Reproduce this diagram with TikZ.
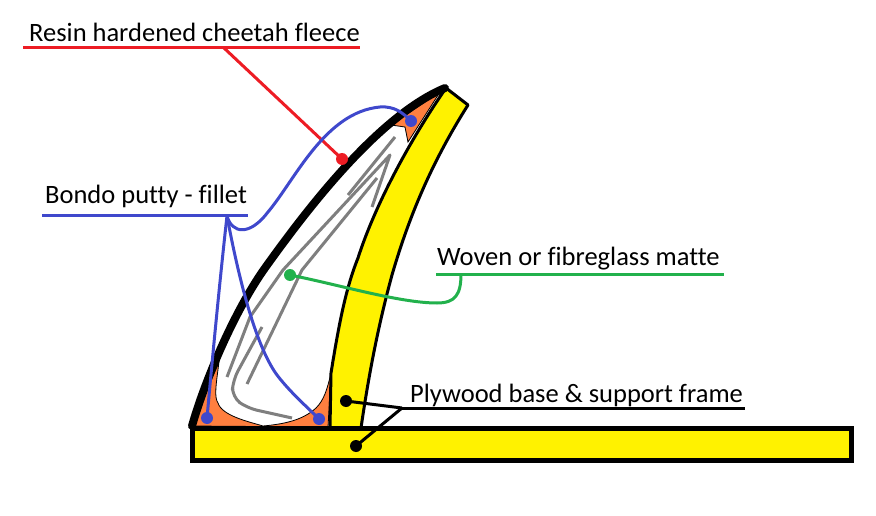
\documentclass[tikz,border=0pt]{standalone}
\usepackage{fontspec}
\setmainfont[Ligatures={CommonOff,ContextualOff}]{Carlito}
\definecolor{plyyellow}{HTML}{FFF200}
\definecolor{filletorange}{HTML}{FF7F3F}
\definecolor{puttyblue}{HTML}{3F48CC}
\definecolor{fleecered}{HTML}{ED1C24}
\definecolor{matgreen}{HTML}{22B14C}
\definecolor{matgray}{HTML}{7F7F7F}
\tikzset{
  label text/.style={anchor=base west, inner sep=0pt, font=\fontsize{26.5}{28}\selectfont},
  lead/.style={line width=3pt, line join=round},
  under/.style={line width=3pt},
  dot/.style={circle, fill, inner sep=0pt, minimum size=12pt},
  strand/.style={matgray, line width=3pt, line join=round}
}
\begin{document}
\begin{tikzpicture}[x=1pt, y=-1pt]
\useasboundingbox (0,0) rectangle (876,516);
% fillets
\filldraw[fill=filletorange, draw=black, line width=0.8pt] (191,426) -- (219,362) .. controls (216,385) and (214,397) .. (218,403)
  .. controls (222,416) and (250,422) .. (263,426) .. controls (285,424) and (303,420) .. (316,408)
  .. controls (324,400) and (327,390) .. (331,373) -- (328,427) -- cycle;
\filldraw[fill=filletorange, draw=black, line width=0.8pt] (391,125) -- (440,92) -- (408,142) -- (405,127) -- cycle;
% fibreglass matte
\draw[strand] (395,137) -- (348,195);
\draw[strand] (372,207) -- (390,155) -- (283,270) -- (250,317) -- (227,377);
\draw[strand] (377,178) -- (302,270) -- (247,384);
\draw[strand, rounded corners=10pt] (262,327) -- (233,380) -- (232,397) -- (247,408) -- (292,418);
% support frame
\draw[fill=plyyellow, line width=3pt, line join=round] (330,428) -- (331,373)
  .. controls (338,330) and (345,290) .. (358,258) .. controls (375,205) and (410,140) .. (446,88)
  -- (468,105) .. controls (430,165) and (408,220) .. (392,275) .. controls (377,330) and (368,380) .. (361,428) -- cycle;
% fleece skin
\draw[line width=8pt, line cap=round] (192,426) .. controls (205,380) and (235,310) .. (265,268)
  .. controls (310,205) and (380,115) .. (445,88);
% base
\draw[fill=plyyellow, line width=5pt] (192,428.5) rectangle (851.5,460);
% labels
\node[label text] (resin) at (29,42) {Resin hardened cheetah fleece};
\node[label text] (bondo) at (45,204) {Bondo putty - fillet};
\node[label text] (woven) at (437,265) {Woven or fibreglass matte};
\node[label text] (plywood) at (410,402) {Plywood base \& support frame};
% underlines
\coordinate (resinL) at (23,48); \coordinate (resinR) at (360,48); \coordinate (resinT) at (224,48);
\coordinate (bondoL) at (42,215); \coordinate (bondoR) at (248,215); \coordinate (bondoT) at (227,216);
\coordinate (wovenL) at (436,274); \coordinate (wovenR) at (724,274); \coordinate (wovenT) at (461,274);
\coordinate (plyL) at (402,408); \coordinate (plyR) at (745,408);
\draw[under, fleecered] (resinL) -- (resinR);
\draw[under, puttyblue] (bondoL) -- (bondoR);
\draw[under, matgreen] (wovenL) -- (wovenR);
\draw[under] (plyL) -- (plyR);
% dots
\node[dot, fleecered] (redDot) at (342,159) {};
\node[dot, matgreen] (greenDot) at (290,275) {};
\node[dot, puttyblue] (blueTop) at (411,121) {};
\node[dot, puttyblue] (blueLeft) at (207,418) {};
\node[dot, puttyblue] (blueRight) at (319,419) {};
\node[dot, black] (frameDot) at (346,401) {};
\node[dot, black] (baseDot) at (356,446) {};
% leaders
\draw[lead, fleecered] (resinT) -- (redDot.center);
\draw[lead, matgreen] (wovenT) .. controls (461,295) and (455,303) .. (437,303)
  .. controls (400,303) and (340,285) .. (greenDot.center);
\draw[lead, puttyblue] (bondoT) .. controls (232,234) and (250,236) .. (268,212)
  .. controls (295,180) and (325,112) .. (380,107) .. controls (395,106) and (403,113) .. (blueTop.center);
\draw[lead, puttyblue] (bondoT) .. controls (222,260) and (214,340) .. (blueLeft.center);
\draw[lead, puttyblue] (bondoT) .. controls (238,275) and (255,345) .. (277,375)
  .. controls (290,392) and (305,405) .. (blueRight.center);
\draw[lead] (frameDot.center) -- (plyL);
\draw[lead] (baseDot.center) -- (plyL);
\end{tikzpicture}
\end{document}
